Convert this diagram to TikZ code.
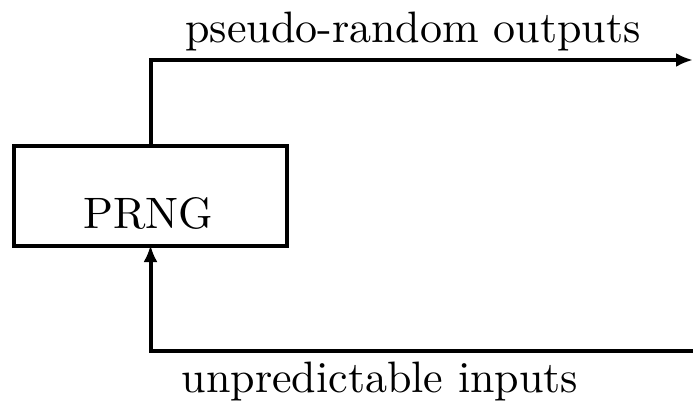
\documentclass[tikz,border=0pt]{standalone}
\usepackage{fontspec}
\newfontfamily\lmten{lmroman10-regular.otf}
\usetikzlibrary{arrows.meta}
\begin{document}
\begin{tikzpicture}[x=1pt,y=-1pt,
  thick line/.style={line width=4pt},
  boxstyle/.style={draw,line width=4pt,minimum width=273pt,minimum height=100pt,inner sep=0pt},
  lbl/.style={font=\lmten\fontsize{44}{50}\selectfont,anchor=base,inner sep=0pt},
  arr/.style={thick line,-{Latex[length=17pt,width=14pt]}}]
\useasboundingbox (0,0) rectangle (693,412);
\node[boxstyle] (prng) at (150.5,196) {};
\node[lbl] (prngtext) at (148,228) {PRNG};
\coordinate (outend) at (693,60);
\coordinate (inend) at (693,351);
\node[lbl] (outtext) at (413,43) {pseudo-random outputs};
\node[lbl] (intext) at (380,392) {unpredictable inputs};
\draw[arr] (prng.north) |- (outend);
\draw[arr] (inend) -| ([yshift=3pt]prng.south);
\end{tikzpicture}
\end{document}
